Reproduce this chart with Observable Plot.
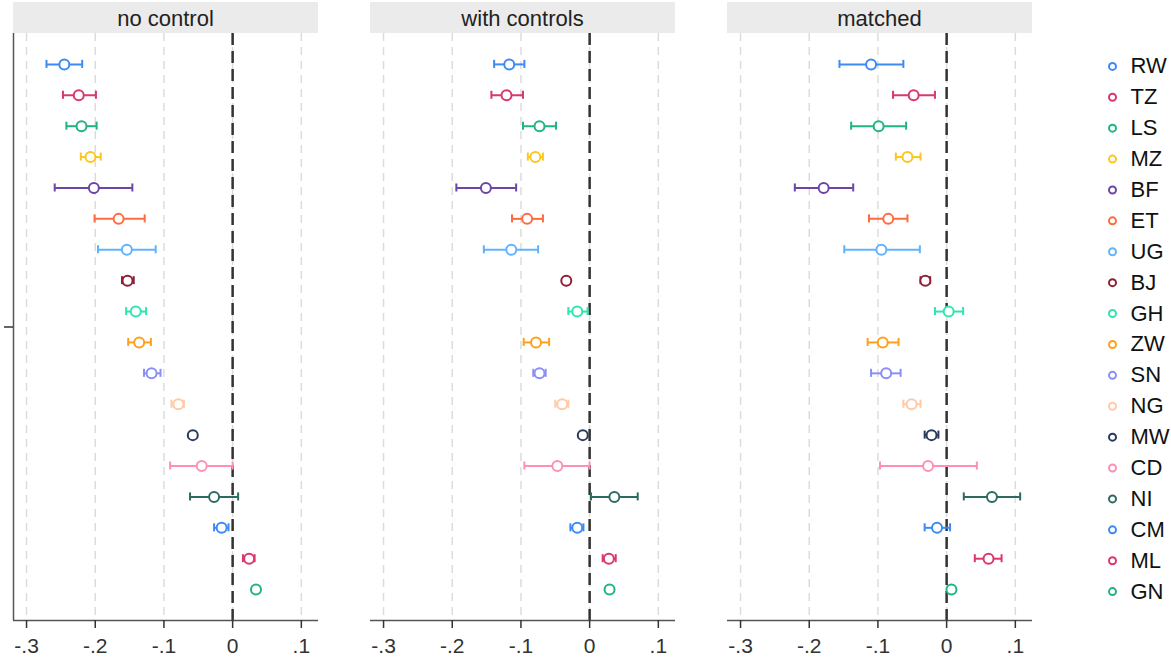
<!DOCTYPE html>
<html><head><meta charset="utf-8">
<script src="https://cdn.jsdelivr.net/npm/d3@7"></script>
<script src="https://cdn.jsdelivr.net/npm/@observablehq/plot@0.6"></script>
<style>
body{margin:0;background:#fff;font-family:"Liberation Sans",Arial,sans-serif}
#wrap{position:relative;width:1171px;height:660px;overflow:hidden;background:#fff}
#wrap svg{position:absolute;top:0;overflow:visible}
</style></head><body><div id="wrap"></div>
<script>
const countries = ["RW","TZ","LS","MZ","BF","ET","UG","BJ","GH","ZW","SN","NG","MW","CD","NI","CM","ML","GN"];
const models = ["no control","with controls","matched"];

const noControlEst = [-0.245,-0.224,-0.220,-0.207,-0.202,-0.166,-0.154,-0.153,-0.141,-0.136,-0.118,-0.079,-0.058,-0.045,-0.027,-0.016,0.024,0.034];
const noControlLo  = [-0.271,-0.247,-0.242,-0.221,-0.259,-0.201,-0.196,-0.161,-0.155,-0.152,-0.129,-0.089,-0.061,-0.091,-0.062,-0.027,0.015,0.033];
const noControlHi  = [-0.219,-0.199,-0.198,-0.192,-0.146,-0.128,-0.112,-0.144,-0.126,-0.119,-0.105,-0.071,-0.054,0.000,0.008,-0.006,0.032,0.035];

const controlsEst = [-0.117,-0.121,-0.073,-0.079,-0.151,-0.091,-0.114,-0.034,-0.018,-0.078,-0.073,-0.040,-0.010,-0.047,0.036,-0.018,0.028,0.029];
const controlsLo  = [-0.139,-0.143,-0.097,-0.090,-0.194,-0.113,-0.154,-0.036,-0.031,-0.096,-0.082,-0.050,-0.012,-0.095,0.002,-0.028,0.019,0.028];
const controlsHi  = [-0.095,-0.097,-0.049,-0.068,-0.107,-0.068,-0.075,-0.032,-0.003,-0.059,-0.064,-0.031,-0.008,0.000,0.070,-0.009,0.038,0.030];

const matchedEst = [-0.110,-0.048,-0.099,-0.057,-0.179,-0.085,-0.095,-0.031,0.003,-0.093,-0.088,-0.051,-0.022,-0.027,0.066,-0.014,0.061,0.007];
const matchedLo  = [-0.156,-0.078,-0.139,-0.074,-0.221,-0.113,-0.149,-0.038,-0.017,-0.115,-0.110,-0.063,-0.032,-0.097,0.025,-0.032,0.041,0.005];
const matchedHi  = [-0.063,-0.017,-0.059,-0.038,-0.136,-0.057,-0.039,-0.024,0.024,-0.070,-0.067,-0.038,-0.012,0.044,0.107,0.005,0.080,0.010];

const palette = ["#3d8bf2","#d9376e","#20b57e","#fcc61c","#6b45a8","#ff6a3f","#5fb3ff","#8e1f35","#2de6b2","#ffa01c","#8a8ef7","#ffcaa6","#283a5e","#ff8fb5","#2d6b60"];
const xTicks = [-0.3,-0.2,-0.1,0,0.1];
const xDomain = [-0.319, 0.125];
const yDomain = [0, countries.length + 1];

const sets = [[noControlEst,noControlLo,noControlHi],[controlsEst,controlsLo,controlsHi],[matchedEst,matchedLo,matchedHi]];
const rows = [];
models.forEach((m,k) => countries.forEach((c,i) => rows.push({model:m, country:c, i:i+1, est:sets[k][0][i], lo:sets[k][1][i], hi:sets[k][2][i]})));

const colorScale = {type:"ordinal", domain: countries, range: countries.map((c,i) => palette[i % palette.length])};
const fmt = v => v === 0 ? "0" : (v < 0 ? "-" : "") + "." + Math.round(Math.abs(v)*10);
const capHalf = 0.13;

const chart = Plot.plot({
  width: 1171, height: 660,
  marginTop: 33, marginBottom: 40, marginLeft: 12, marginRight: 137,
  style: {fontFamily: '"Liberation Sans", Arial, sans-serif', fontSize: "21px", color: "#333", background: "white"},
  fx: {domain: models, paddingInner: 0.145, paddingOuter: 0, axis: null, label: null},
  x: {domain: xDomain, label: null},
  y: {domain: yDomain, reverse: true, label: null},
  color: colorScale,
  marks: [
    Plot.gridX(xTicks, {stroke: "#dcdcdc", strokeOpacity: 1, strokeWidth: 1.5, strokeDasharray: "8,6"}),
    Plot.ruleX([0], {stroke: "#333", strokeWidth: 2.5, strokeDasharray: "12,6"}),
    Plot.ruleY([yDomain[1]], {stroke: "#555", strokeWidth: 1.5}),
    Plot.ruleX([{model: models[0]}], {fx: "model", x: () => xDomain[0], stroke: "#555", strokeWidth: 1.5}),
    Plot.axisX({ticks: xTicks, tickFormat: fmt, tickSize: 8, tickPadding: 10, fontSize: 21, strokeWidth: 1.5}),
    Plot.axisY({ticks: [yDomain[1]/2], tickFormat: () => "", tickSize: 9, strokeWidth: 1.5}),
    Plot.ruleY(rows, {fx: "model", y: "i", x1: "lo", x2: "hi", stroke: "country", strokeWidth: 2}),
    Plot.ruleX(rows, {fx: "model", x: "lo", y1: d => d.i - capHalf, y2: d => d.i + capHalf, stroke: "country", strokeWidth: 2}),
    Plot.ruleX(rows, {fx: "model", x: "hi", y1: d => d.i - capHalf, y2: d => d.i + capHalf, stroke: "country", strokeWidth: 2}),
    Plot.dot(rows, {fx: "model", x: "est", y: "i", r: 5, stroke: "country", fill: "white", strokeWidth: 2})
  ]
});

// facet strip headers
const fxs = chart.scale("fx");
const svg = d3.select(chart);
models.forEach(m => {
  const x0 = fxs.apply(m), w = fxs.bandwidth;
  svg.append("rect").attr("x", x0).attr("y", 2).attr("width", w).attr("height", 31).attr("fill", "#ebebeb");
  svg.append("text").attr("x", x0 + w/2).attr("y", 26).attr("text-anchor", "middle")
     .attr("font-size", 22).attr("fill", "#222").text(m);
});

const legend = Plot.plot({
  width: 81, height: 660,
  marginTop: 33, marginBottom: 40, marginLeft: 0, marginRight: 0,
  style: {fontFamily: '"Liberation Sans", Arial, sans-serif', background: "transparent", overflow: "visible"},
  x: {axis: null}, y: {domain: yDomain, reverse: true, axis: null},
  color: colorScale,
  marks: [
    Plot.dot(countries, {y: (d,i) => i + 1, frameAnchor: "left", dx: 22, dy: 2, r: 3.5, stroke: d => d, fill: "white", strokeWidth: 2}),
    Plot.text(countries, {y: (d,i) => i + 1, text: d => d, frameAnchor: "left", dx: 40, dy: 2, textAnchor: "start", fontSize: 22, fill: "#111"})
  ]
});

const wrap = document.getElementById("wrap");
chart.style.left = "0px";
legend.style.left = "1090px";
wrap.appendChild(chart);
wrap.appendChild(legend);
</script>
</body></html>
